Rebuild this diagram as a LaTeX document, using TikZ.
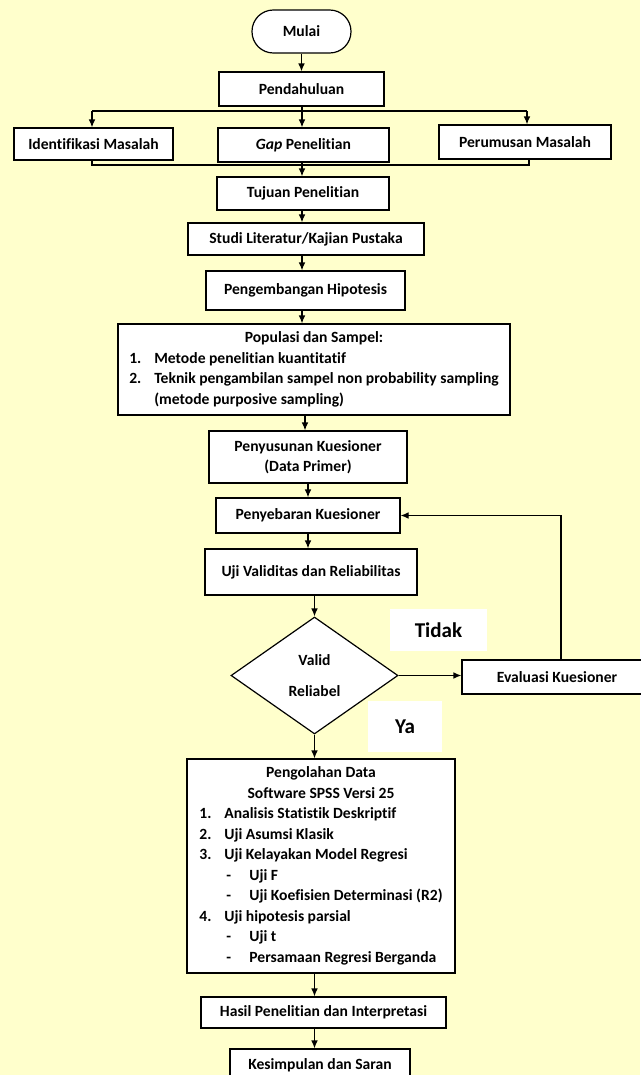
\documentclass[tikz,border=0pt]{standalone}
\usepackage{fontspec}
\setmainfont{Carlito}[RawFeature={-liga;-clig}]
\usetikzlibrary{shapes.geometric,arrows.meta}
\definecolor{bgyel}{HTML}{FFFFCC}
\begin{document}
\begin{tikzpicture}[x=0.75pt,y=-0.75pt,
  font=\fontsize{11.7}{15.4}\selectfont\bfseries,
  box/.style={draw, fill=white, line width=0.9pt, inner sep=2pt, align=center},
  sz/.style 2 args={minimum width=#1*0.75pt, minimum height=#2*0.75pt},
  arr/.style={line width=0.9pt, -{Latex[length=6pt,width=5pt]}},
  ln/.style={line width=0.9pt},
  lbl/.style={fill=white, inner sep=0pt, font=\fontsize{15.8}{18}\selectfont\bfseries}]
\fill[bgyel] (0,0) rectangle (640,1075);
\useasboundingbox (0,0) rectangle (640,1075);

% nodes
\node[box, sz={99}{43}, rounded corners=16pt] (mulai) at (301.5,31.5) {Mulai};
\node[box, sz={165}{34}] (pend) at (301.5,89) {Pendahuluan};
\node[box, sz={159}{32}] (ident) at (93.5,144) {Identifikasi Masalah};
\node[box, sz={171}{34}] (gap) at (303.5,145) {\textit{Gap} Penelitian};
\node[box, sz={172}{34}] (perum) at (525,142) {Perumusan Masalah};
\node[box, sz={172}{33}] (tujuan) at (303,193.5) {Tujuan Penelitian};
\node[box, sz={236}{32}] (studi) at (306,239) {Studi Literatur/Kajian Pustaka};
\node[box, sz={199}{39}] (hipo) at (305.5,290.5) {Pengembangan Hipotesis};
\node[box, sz={392}{91}] (pop) at (314,369.5) {\setlength\tabcolsep{0pt}%
  \begin{tabular}{@{}p{18.75pt}l@{}}
  \multicolumn{2}{c}{Populasi dan Sampel:}\\
  1. & Metode penelitian kuantitatif\\
  2. & Teknik pengambilan sampel non probability sampling\\
     & (metode purposive sampling)
  \end{tabular}};
\node[box, sz={198}{52}] (susun) at (308,457) {Penyusunan Kuesioner\\(Data Primer)};
\node[box, sz={184}{35}] (sebar) at (308,515.5) {Penyebaran Kuesioner};
\node[box, sz={212}{46}] (ujival) at (311,572) {Uji Validitas dan Reliabilitas};
\node[box, diamond, sz={167}{117}, inner sep=0pt] (dec) at (314.5,675.5) {Valid\\[8pt]Reliabel};
\node[box, sz={190}{34}] (eval) at (557,677) {Evaluasi Kuesioner};
\node[lbl, sz={97}{42}] (tidak) at (438.5,630) {Tidak};
\node[lbl, sz={74}{51}] (ya) at (405,726.5) {Ya};
\node[box, sz={268}{214}] (pengol) at (321,866) {\setlength\tabcolsep{0pt}%
  \begin{tabular}{@{}p{18.75pt}p{18.75pt}l@{}}
  \multicolumn{3}{c}{Pengolahan Data}\\
  \multicolumn{3}{c}{Software SPSS Versi 25}\\
  1. & \multicolumn{2}{l}{Analisis Statistik Deskriptif}\\
  2. & \multicolumn{2}{l}{Uji Asumsi Klasik}\\
  3. & \multicolumn{2}{l}{Uji Kelayakan Model Regresi}\\
     & \hspace{1.5pt}- & Uji F\\
     & \hspace{1.5pt}- & Uji Koefisien Determinasi (R2)\\
  4. & \multicolumn{2}{l}{Uji hipotesis parsial}\\
     & \hspace{1.5pt}- & Uji t\\
     & \hspace{1.5pt}- & Persamaan Regresi Berganda
  \end{tabular}};
\node[box, sz={245}{31}] (hasil) at (323.5,1012.5) {Hasil Penelitian dan Interpretasi};
\node[box, sz={180}{32}] (kesim) at (320,1065) {Kesimpulan dan Saran};

% helper coordinates
\coordinate (bl) at (92,111);
\coordinate (bt) at (302,111);
\coordinate (br) at (527,111);
\coordinate (ml) at (92,165);
\coordinate (mr) at (529,165);
\coordinate (c5) at (305,0);
\coordinate (fb) at (561,0);

% connectors
\draw[arr] (mulai.south) -- (mulai.south |- pend.north);
\draw[ln] (bt |- pend.south) -- (bt);
\draw[ln] (bl) -- (br);
\draw[arr] (bl) -- (bl |- ident.north);
\draw[arr] (bt) -- (bt |- gap.north);
\draw[arr] (br) -- (br |- perum.north);
\draw[ln] (ml |- ident.south) -- (ml) -- (mr) -- (mr |- perum.south);
\draw[arr] (bt |- gap.south) -- (bt |- tujuan.north);
\draw[arr] (bt |- tujuan.south) -- (bt |- studi.north);
\draw[arr] (bt |- studi.south) -- (bt |- hipo.north);
\draw[arr] (bt |- hipo.south) -- (bt |- pop.north);
\draw[arr] (c5 |- pop.south) -- (c5 |- susun.north);
\draw[arr] (susun.south) -- (susun.south |- sebar.north);
\draw[arr] (sebar.south) -- (sebar.south |- ujival.north);
\draw[arr] (dec.north |- ujival.south) -- (dec.north);
\draw[arr] (dec.south) -- (dec.south |- pengol.north);
\draw[arr] (dec.south |- pengol.south) -- (dec.south |- hasil.north);
\draw[arr] (dec.south |- hasil.south) -- (dec.south |- kesim.north);
\draw[arr] (dec.east) -- (dec.east -| eval.west);
\draw[arr] (fb |- eval.north) -- (fb |- sebar.east) -- (sebar.east);
\end{tikzpicture}
\end{document}
